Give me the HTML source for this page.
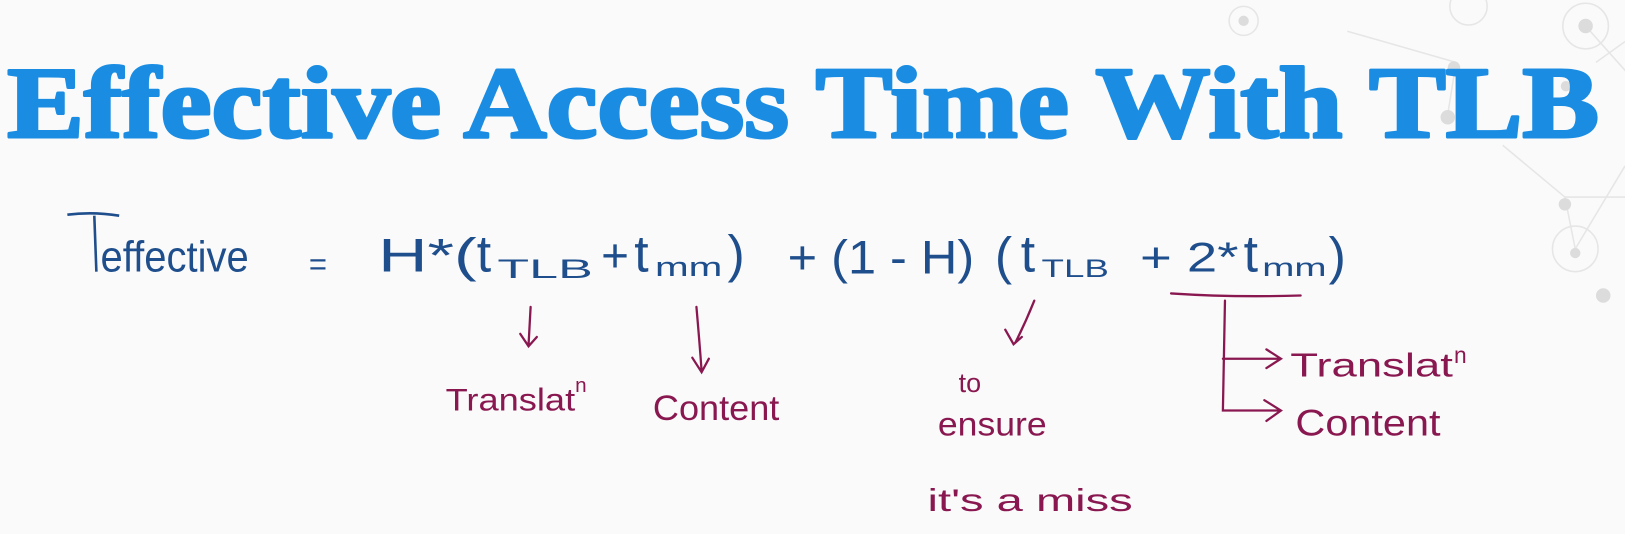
<!DOCTYPE html>
<html><head><meta charset="utf-8"><style>
html,body{margin:0;padding:0;background:#fafafa;}
svg{display:block}
</style></head><body>
<svg width="1625" height="534" viewBox="0 0 1568 515" xmlns="http://www.w3.org/2000/svg">
<rect width="1568" height="515" fill="#fafafa"/>
<!-- background network -->
<g stroke="#e6e6e6" stroke-width="1.5" fill="none">
<line x1="1300" y1="30" x2="1405" y2="60"/>
<line x1="1405" y1="60" x2="1397" y2="110"/>
<line x1="1530" y1="25" x2="1570" y2="70"/>
<line x1="1510" y1="190" x2="1450" y2="140"/>
<line x1="1510" y1="190" x2="1568" y2="190"/>
<line x1="1510" y1="190" x2="1520" y2="240"/>
<line x1="1520" y1="240" x2="1568" y2="160"/>
<line x1="1540" y1="60" x2="1568" y2="40"/>
<circle cx="1417" cy="6" r="18"/>
<circle cx="1530" cy="25" r="22"/>
<circle cx="1520" cy="240" r="22"/>
<circle cx="1200" cy="20" r="14"/>
</g>
<g fill="#dcdcdc">
<circle cx="1403" cy="65" r="6"/><circle cx="1397" cy="113" r="7"/>
<circle cx="1530" cy="25" r="7"/><circle cx="1510" cy="197" r="6"/>
<circle cx="1520" cy="244" r="5"/><circle cx="1547" cy="285" r="7"/>
<circle cx="1511" cy="83" r="5"/><circle cx="1200" cy="20" r="5"/>
</g>
<text x="7" y="132" font-family="'Roboto Slab','Liberation Serif',serif" font-weight="bold" font-size="98" fill="#1a8de3" stroke="#1a8de3" stroke-width="3" stroke-linejoin="round" textLength="1536" lengthAdjust="spacingAndGlyphs">Effective Access Time With TLB</text>
<g font-family="'Liberation Sans',sans-serif" fill="#1f4e8c">
<path d="M65 207 Q90 204 115 208" stroke="#1f4e8c" stroke-width="2.5" fill="none"/>
<line x1="91" y1="208" x2="93" y2="262" stroke="#1f4e8c" stroke-width="2.5"/>
<text x="97" y="262" font-size="42" textLength="143" lengthAdjust="spacingAndGlyphs">effective</text>
<text x="298" y="265" font-size="30">=</text>
<text x="365" y="262" font-size="46" textLength="95" lengthAdjust="spacingAndGlyphs">H*(</text>
<text x="460" y="262" font-size="50">t</text>
<text x="480" y="268" font-size="26" textLength="92" lengthAdjust="spacingAndGlyphs">TLB</text>
<text x="580" y="262" font-size="46">+</text>
<text x="612" y="262" font-size="50">t</text>
<text x="632" y="266" font-size="26" textLength="65" lengthAdjust="spacingAndGlyphs">mm</text>
<text x="702" y="262" font-size="50">)</text>
<text x="760" y="264" font-size="46" textLength="180" lengthAdjust="spacingAndGlyphs">+ (1 - H)</text>
<text x="960" y="264" font-size="50">(</text>
<text x="985" y="262" font-size="50">t</text>
<text x="1005" y="267" font-size="24" textLength="65" lengthAdjust="spacingAndGlyphs">TLB</text>
<text x="1100" y="262" font-size="40" textLength="95" lengthAdjust="spacingAndGlyphs">+ 2*</text>
<text x="1200" y="262" font-size="50">t</text>
<text x="1218" y="266" font-size="24" textLength="62" lengthAdjust="spacingAndGlyphs">mm</text>
<text x="1282" y="264" font-size="50">)</text>
</g>
<g stroke="#8a1850" stroke-width="2.2" fill="none" stroke-linecap="round">
<path d="M1130 283 Q1190 287 1255 285"/>
<path d="M512 296 L510 333 M502 322 L510 334 L518 325"/>
<path d="M672 296 Q675 330 677 358 M668 345 L677 359 L684 346"/>
<path d="M998 290 Q990 310 980 330 M970 318 L978 332 L986 325"/>
<path d="M1182 290 L1180 396 L1235 396 M1220 386 L1236 396 L1222 406"/>
<path d="M1180 346 L1236 346 M1222 337 L1236 346 L1222 355"/>
</g>
<g font-family="'Liberation Sans',sans-serif" fill="#8a1850">
<text x="430" y="396" font-size="30" textLength="125" lengthAdjust="spacingAndGlyphs">Translat</text>
<text x="555" y="378" font-size="20">n</text>
<text x="630" y="405" font-size="34" textLength="122" lengthAdjust="spacingAndGlyphs">Content</text>
<text x="925" y="378" font-size="26">to</text>
<text x="905" y="420" font-size="32" textLength="105" lengthAdjust="spacingAndGlyphs">ensure</text>
<text x="895" y="493" font-size="30" textLength="198" lengthAdjust="spacingAndGlyphs">it's  a  miss</text>
<text x="1245" y="363" font-size="32" textLength="157" lengthAdjust="spacingAndGlyphs">Translat</text>
<text x="1403" y="350" font-size="22">n</text>
<text x="1250" y="420" font-size="36" textLength="140" lengthAdjust="spacingAndGlyphs">Content</text>
</g>
</svg>
</body></html>
